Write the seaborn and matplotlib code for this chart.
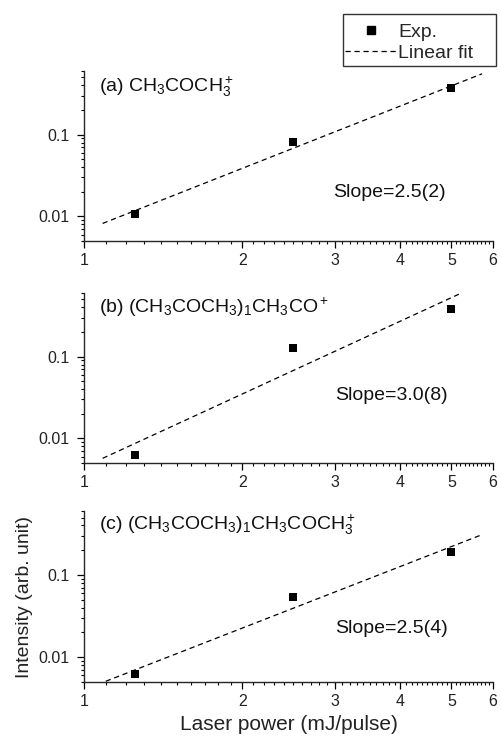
import numpy as np
import pandas as pd
import matplotlib
matplotlib.use("Agg")
import matplotlib.pyplot as plt
import seaborn as sns
from matplotlib.ticker import FixedLocator, FuncFormatter, LogLocator, NullFormatter
from matplotlib.lines import Line2D
from matplotlib.patches import Rectangle

# ---------------- data ----------------
power = [1.25, 2.5, 5.0]                       # mJ/pulse
intensity_a = [0.0108, 0.082, 0.372]
intensity_b = [0.00625, 0.128, 0.385]
intensity_c = [0.0062, 0.054, 0.19]

fit_x_a = [1.085, 5.72]
fit_y_a = [0.0082, 0.555]
fit_x_b = [1.085, 5.22]
fit_y_b = [0.0057, 0.598]
fit_x_c = [1.10, 5.70]
fit_y_c = [0.0051, 0.307]

labels = [r"(a) CH$_3$COCH$_3^+$",
          r"(b) (CH$_3$COCH$_3$)$_1$CH$_3$CO$^+$",
          r"(c) (CH$_3$COCH$_3$)$_1$CH$_3$COCH$_3^+$"]
slopes = ["Slope=2.5(2)", "Slope=3.0(8)", "Slope=2.5(4)"]
legend_labels = ["Exp.", "Linear fit"]
x_major = [1, 2, 3, 4, 5, 6]
y_major = [0.01, 0.1]

# ---------------- style ----------------
sns.set_style("ticks")
plt.rcParams["font.family"] = ["Liberation Sans", "DejaVu Sans"]
plt.rcParams["mathtext.fontset"] = "custom"
plt.rcParams["mathtext.rm"] = "Liberation Sans"
plt.rcParams["mathtext.it"] = "Liberation Sans:italic"
plt.rcParams["mathtext.bf"] = "Liberation Sans:bold"
plt.rcParams["axes.linewidth"] = 1.0

fig = plt.figure(figsize=(5.01, 7.40), dpi=100)
left, width = 84 / 501, 409 / 501
rects = [(71, 241), (293, 463), (511, 682)]
axes = []
for top, bot in rects:
    ax = fig.add_axes([left, 1 - bot / 740, width, (bot - top) / 740])
    axes.append(ax)

datasets = [(intensity_a, fit_x_a, fit_y_a),
            (intensity_b, fit_x_b, fit_y_b),
            (intensity_c, fit_x_c, fit_y_c)]
slope_pos = [(0.609, 0.259), (0.614, 0.37), (0.614, 0.287)]
label_pos = [0.876, 0.882, 0.889]

minor_x = [v for v in np.round(np.arange(1.1, 6.0, 0.1), 2) if abs(v - round(v)) > 1e-6]
dash = (0, (4.2, 3.0))

for i, ax in enumerate(axes):
    yv, fx, fy = datasets[i]
    df = pd.DataFrame({"x": power, "y": yv})
    dff = pd.DataFrame({"x": fx, "y": fy})
    sns.lineplot(data=dff, x="x", y="y", ax=ax, color="black", lw=0.9,
                 linestyle=dash, zorder=2)
    sns.scatterplot(data=df, x="x", y="y", ax=ax, marker="s", s=36,
                    color="black", linewidth=0, zorder=3)
    ax.set_xscale("log")
    ax.set_yscale("log")
    ax.set_xlim(1, 6)
    ax.set_ylim(0.005, 0.6)
    sns.despine(ax=ax)
    ax.xaxis.set_major_locator(FixedLocator(x_major))
    ax.xaxis.set_minor_locator(FixedLocator(minor_x))
    ax.xaxis.set_major_formatter(FuncFormatter(lambda v, p: f"{v:g}"))
    ax.xaxis.set_minor_formatter(NullFormatter())
    ax.yaxis.set_major_locator(FixedLocator(y_major))
    ax.yaxis.set_minor_locator(LogLocator(base=10, subs=np.arange(2, 10)))
    ax.yaxis.set_major_formatter(FuncFormatter(lambda v, p: f"{v:g}"))
    ax.yaxis.set_minor_formatter(NullFormatter())
    ax.tick_params(which="major", direction="out", length=4.8, width=0.9,
                   labelsize=11.5, color="black", labelcolor="#222222")
    ax.tick_params(axis="x", which="major", pad=3.5)
    ax.tick_params(axis="y", which="major", pad=5.5)
    ax.tick_params(which="minor", direction="out", length=2.4, width=0.8,
                   color="black")
    ax.set_xlabel("")
    ax.set_ylabel("")
    ax.text(0.037, label_pos[i], labels[i], transform=ax.transAxes,
            fontsize=14, ha="left", va="baseline", color="#111111")
    ax.text(slope_pos[i][0], slope_pos[i][1], slopes[i], transform=ax.transAxes,
            fontsize=14, ha="left", va="baseline", color="#111111")

axc = axes[2]
axc.set_ylabel("Intensity (arb. unit)", fontsize=14, color="#222222")
axc.yaxis.set_label_coords(-0.125, 0.5)
axc.set_xlabel("Laser power (mJ/pulse)", fontsize=15, color="#222222")
axc.xaxis.set_label_coords(0.5, -0.195)

handles = [Line2D([], [], marker="s", color="black", linestyle="none", markersize=6),
           Line2D([], [], color="black", lw=0.9, linestyle=dash)]
leg = fig.legend(handles, legend_labels, loc="center left",
                 bbox_to_anchor=(345 / 501, 1 - 42.5 / 740), fontsize=14,
                 frameon=False, handlelength=2.65, handletextpad=0.1,
                 borderpad=0, labelspacing=0.2, borderaxespad=0)
# legend frame (box extends beyond the text on the right, as in the original)
fig.add_artist(Rectangle((343 / 501, 1 - 66 / 740), 153 / 501, 52 / 740,
                         transform=fig.transFigure, fill=False,
                         edgecolor="#333333", lw=1.0))

fig.savefig("out.png", dpi=100)
